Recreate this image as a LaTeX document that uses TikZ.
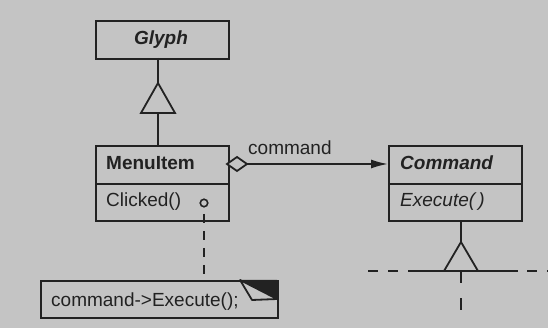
\documentclass[tikz,border=0pt]{standalone}
\usepackage{fontspec}
\setmainfont{Liberation Sans}
\usetikzlibrary{arrows.meta,calc}
\definecolor{bg}{RGB}{196,196,196}
\definecolor{ink}{RGB}{34,34,34}
\begin{document}
\begin{tikzpicture}[x=1pt,y=-1pt,
  lw/.style={line width=1.8pt, draw=ink},
  classbox/.style={lw, rectangle, minimum width=133pt, inner sep=0pt, anchor=north west},
  txt/.style={text=ink, inner sep=0pt, anchor=base west, font=\fontsize{19}{22}\selectfont},
  tri/.style={lw, fill=bg},
]
\fill[bg] (0,0) rectangle (548,328);
\useasboundingbox (0,0) rectangle (548,328);

% Glyph
\node[classbox, minimum height=38pt] (glyph) at (95,20) {};
\node[txt, anchor=base] (glypht) at (161,45) {\bfseries\itshape Glyph};

% MenuItem
\node[classbox, minimum height=38pt] (mhead) at (95,145) {};
\node[classbox, minimum height=37pt] (mbody) at (95,183) {};
\node[txt] (mheadt) at (106,170) {\bfseries MenuItem};
\node[txt] (mbodyt) at (106,207) {Clicked()};
\node[circle, lw, line width=1.6pt, minimum size=7.5pt, inner sep=0pt] (dot) at (204,203) {};

% Command
\node[classbox, minimum height=38pt] (chead) at (388,145) {};
\node[classbox, minimum height=37pt] (cbody) at (388,183) {};
\node[txt] (cheadt) at (400,170) {\bfseries\itshape Command};
\node[txt] (cbodyt) at (400,207) {\itshape Execute(\,)};

% inheritance Glyph <- MenuItem
\coordinate (g1) at (158,58);
\coordinate (g2) at (158,145);
\coordinate (gapex) at (158,83);
\coordinate (gbase) at (158,113);
\draw[lw] (g1) -- (gapex);
\draw[tri] (gapex) -- (141,113) -- (175,113) -- cycle;
\draw[lw] (gbase) -- (g2);

% aggregation MenuItem -> Command
\coordinate (d0) at (227,164);
\coordinate (d1) at (247,164);
\draw[lw, fill=bg] (d0) -- (237,157) -- (d1) -- (237,171) -- cycle;
\draw[lw, -{Latex[length=17pt,width=9pt]}] (d1) -- (chead.west |- d1);
\node[txt] (cmdlabel) at (248,155) {command};

% note
\node[classbox, minimum width=237pt, minimum height=37pt] (note) at (40,280) {};
\node[txt] (notet) at (51,306) {command->Execute();};
\fill[ink] (240,280) -- (277,280) -- (277,299) -- cycle;
\draw[lw, fill=bg, line join=round] (240,280) -- (252,300) -- (277,299) -- cycle;
\draw[lw, dash pattern=on 9pt off 8pt] (204,214) -- (dot.south |- note.north);

% Command subclass
\coordinate (capex) at (461,242);
\coordinate (cbase) at (461,271);
\draw[lw] (cbody.south -| capex) -- (capex);
\draw[tri] (capex) -- (444,271) -- (478,271) -- cycle;
\coordinate (hl) at (408,271);
\coordinate (hr) at (518,271);
\draw[lw] (hl) -- (hr);
\draw[lw, dash pattern=on 10pt off 10pt] (368,271) -- (hl);
\draw[lw, dash pattern=on 10pt off 10pt, dash phase=-9pt] (hr) -- (548,271);
\draw[lw] (cbase) -- (461,283);
\draw[lw] (461,298) -- (461,310);
\end{tikzpicture}
\end{document}
